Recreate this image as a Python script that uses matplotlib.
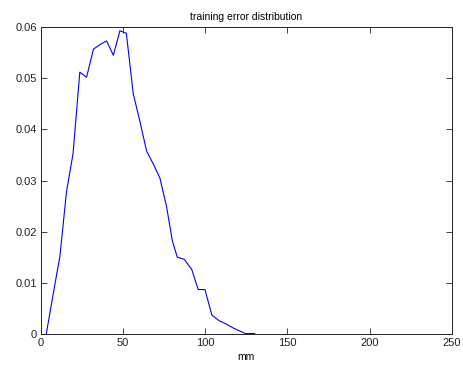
import matplotlib
matplotlib.use("Agg")
import matplotlib.pyplot as plt

plt.rcParams['font.family'] = ['Liberation Sans', 'DejaVu Sans']

# error (mm) vs fraction
err_mm = [3.3, 7.5, 11.6, 15.6, 19.6, 23.7, 27.8, 32.0, 36.0, 40.0,
          44.1, 48.1, 52.0, 56.2, 60.3, 64.3, 68.3, 72.4, 76.4, 80.0,
          83.0, 87.3, 91.8, 95.7, 99.8, 104.0, 108.5, 113.0, 117.5, 121.0,
          124.5, 130.0]
frac = [0.0, 0.0078, 0.0152, 0.0278, 0.0353, 0.0512, 0.0502, 0.0557, 0.0566, 0.0573,
        0.0545, 0.0593, 0.0588, 0.0470, 0.0415, 0.0358, 0.0333, 0.0305, 0.0250, 0.0182,
        0.0150, 0.0146, 0.0126, 0.0087, 0.0087, 0.0037, 0.0026, 0.0019, 0.0011, 0.0006,
        0.0001, 0.0001]

xticks = [0, 50, 100, 150, 200, 250]
yticks = [0, 0.01, 0.02, 0.03, 0.04, 0.05, 0.06]
ytick_labels = ["0", "0.01", "0.02", "0.03", "0.04", "0.05", "0.06"]

fig = plt.figure(figsize=(4.64, 3.72), dpi=100)
ax = fig.add_axes([0.088, 0.102, 0.886, 0.825])

ax.plot(err_mm, frac, color="#0000ff", linewidth=0.8)

ax.set_xlim(0, 250)
ax.set_ylim(0, 0.06)
ax.set_xticks(xticks)
ax.set_xticklabels([str(t) for t in xticks])
ax.set_yticks(yticks)
ax.set_yticklabels(ytick_labels)

ax.tick_params(direction="in", top=True, right=True, length=4, width=0.6,
               labelsize=8, colors="#222222", pad=3)
for s in ax.spines.values():
    s.set_linewidth(0.7)
    s.set_color("#222222")

ax.set_title("training error distribution", fontsize=7.5, pad=5)
ax.set_xlabel("mm", fontsize=7.5, labelpad=3)

fig.savefig("out.png", dpi=100)
